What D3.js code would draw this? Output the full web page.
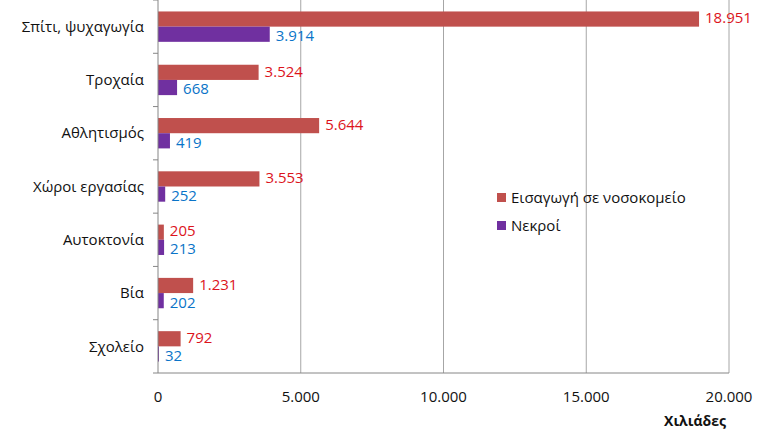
<!DOCTYPE html>
<html>
<head>
<meta charset="utf-8">
<script src="https://cdn.jsdelivr.net/npm/d3@7"></script>
<style>
  html, body { margin: 0; padding: 0; background: #fff; }
  svg { display: block; font-family: "Open Sans", "Noto Sans", sans-serif; }
</style>
</head>
<body>
<div id="chart"></div>
<script>
const categories = ['Σπίτι, ψυχαγωγία', 'Τροχαία', 'Αθλητισμός', 'Χώροι εργασίας', 'Αυτοκτονία', 'Βία', 'Σχολείο'];
const hospital = [18951, 3524, 5644, 3553, 205, 1231, 792];
const deaths = [3914, 668, 419, 252, 213, 202, 32];
const xTicks = [0, 5000, 10000, 15000, 20000];
const seriesNames = ['Εισαγωγή σε νοσοκομείο', 'Νεκροί'];

const W = 767, H = 431;
const m = { left: 158, top: 0, right: 38, bottom: 58 };
const iw = W - m.left - m.right;
const ih = H - m.top - m.bottom;

const svg = d3.select('#chart').append('svg')
  .attr('width', W).attr('height', H);

const g = svg.append('g').attr('transform', `translate(${m.left},${m.top})`);

const x = d3.scaleLinear().domain([0, 20000]).range([0, iw]);
const y = d3.scaleBand().domain(categories).range([0, ih]).paddingInner(0.43).paddingOuter(0.215);
const fmt = (v) => d3.format(',')(v).replace(/,/g, '.');

// vertical gridlines
g.selectAll('line.grid')
  .data(xTicks.slice(1))
  .join('line')
  .attr('class', 'grid')
  .attr('x1', (d) => x(d)).attr('x2', (d) => x(d))
  .attr('y1', 0).attr('y2', ih)
  .attr('stroke', '#a6a6a6').attr('stroke-width', 1);

// bars
const bh = y.bandwidth() / 2;
const rows = categories.map((c, i) => ({ c, h: hospital[i], d: deaths[i] }));

g.selectAll('rect.hosp')
  .data(rows)
  .join('rect')
  .attr('class', 'hosp')
  .attr('x', 0)
  .attr('y', (d) => y(d.c))
  .attr('width', (d) => x(d.h))
  .attr('height', bh)
  .attr('fill', '#c0504d');

g.selectAll('rect.dead')
  .data(rows)
  .join('rect')
  .attr('class', 'dead')
  .attr('x', 0)
  .attr('y', (d) => y(d.c) + bh)
  .attr('width', (d) => Math.max(x(d.d), 1))
  .attr('height', bh)
  .attr('fill', '#7030a0');

// value labels
g.selectAll('text.hl')
  .data(rows)
  .join('text')
  .attr('class', 'hl')
  .attr('x', (d) => x(d.h) + 6)
  .attr('y', (d) => y(d.c) + bh / 2)
  .attr('dy', '0.28em')
  .attr('font-size', '15px')
  .attr('fill', '#dc141c')
  .text((d) => fmt(d.h));

g.selectAll('text.dl')
  .data(rows)
  .join('text')
  .attr('class', 'dl')
  .attr('x', (d) => Math.max(x(d.d), 1) + 6)
  .attr('y', (d) => y(d.c) + bh * 1.5)
  .attr('dy', '0.46em')
  .attr('font-size', '15px')
  .attr('fill', '#0a74c8')
  .text((d) => fmt(d.d));

// left axis line + category ticks
g.append('line')
  .attr('x1', 0).attr('x2', 0).attr('y1', 0).attr('y2', ih)
  .attr('stroke', '#868686');
const step = ih / categories.length;
g.selectAll('line.ytick')
  .data(d3.range(categories.length + 1))
  .join('line')
  .attr('class', 'ytick')
  .attr('x1', -5).attr('x2', 0)
  .attr('y1', (d) => d * step).attr('y2', (d) => d * step)
  .attr('stroke', '#868686');

g.selectAll('text.cat')
  .data(categories)
  .join('text')
  .attr('class', 'cat')
  .attr('x', -14)
  .attr('y', (d) => y(d) + y.bandwidth() / 2)
  .attr('dy', '0.35em')
  .attr('text-anchor', 'end')
  .attr('font-size', '15px')
  .attr('fill', '#111')
  .text((d) => d);

// bottom axis
g.append('line')
  .attr('x1', 0).attr('x2', iw).attr('y1', ih).attr('y2', ih)
  .attr('stroke', '#868686');
g.selectAll('text.xt')
  .data(xTicks)
  .join('text')
  .attr('class', 'xt')
  .attr('x', (d) => x(d))
  .attr('y', ih + 29)
  .attr('text-anchor', 'middle')
  .attr('font-size', '15px')
  .attr('fill', '#111')
  .text(fmt);

svg.append('text')
  .attr('x', 695).attr('y', 426)
  .attr('text-anchor', 'middle')
  .attr('font-size', '14px')
  .attr('font-weight', 'bold')
  .attr('fill', '#111')
  .text('Χιλιάδες');

// legend
const lg = svg.append('g').attr('transform', 'translate(497,193)');
const colors = ['#c0504d', '#7030a0'];
seriesNames.forEach((n, i) => {
  lg.append('rect')
    .attr('x', 0).attr('y', i * 28)
    .attr('width', 9).attr('height', 9)
    .attr('fill', colors[i]);
  lg.append('text')
    .attr('x', 14).attr('y', i * 28 + 4.5)
    .attr('dy', '0.35em')
    .attr('font-size', '15px')
    .attr('fill', '#111')
    .text(n);
});
</script>
</body>
</html>
